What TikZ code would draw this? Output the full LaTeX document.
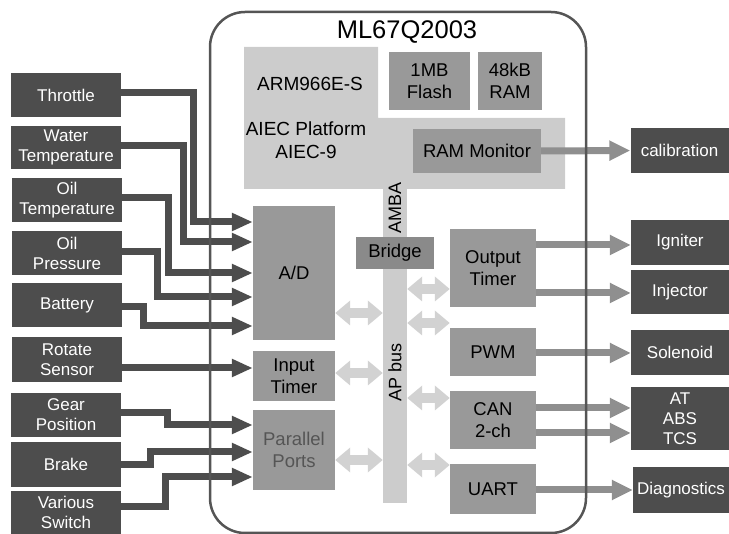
\documentclass[tikz,border=0pt]{standalone}
\usepackage{fontspec}
\setmainfont{Liberation Sans}
\usetikzlibrary{arrows.meta}
\definecolor{extgray}{HTML}{4D4D4D}
\definecolor{modgray}{HTML}{999999}
\definecolor{bridgegray}{HTML}{8A8A8A}
\definecolor{armgray}{HTML}{CCCCCC}
\definecolor{linkgray}{HTML}{D2D2D2}
\definecolor{outgray}{HTML}{8F8F8F}
\definecolor{chipline}{HTML}{555555}
\begin{document}
\begin{tikzpicture}[x=1pt, y=-1pt,
    every node/.style={font=\fontsize{17}{20}\selectfont},
    ext/.style={rectangle, fill=extgray, text=white, inner sep=0pt, align=center, minimum width=110pt, minimum height=44pt},
    sink/.style={ext, minimum width=98pt},
    module/.style={rectangle, fill=modgray, inner sep=0pt, align=center, minimum width=82pt, font=\fontsize{18.5}{22}\selectfont},
    periph/.style={module, minimum width=86pt},
    mem/.style={module, minimum height=58pt},
    busbar/.style={rectangle, fill=armgray, inner sep=0pt, minimum width=24pt},
    inarrow/.style={draw=extgray, line width=7pt, line join=miter, -{Triangle[width=17pt,length=21pt]}},
    outarrow/.style={draw=outgray, line width=7pt, -{Triangle[width=19pt,length=21pt]}},
    busarrow/.style={draw=linkgray, line width=10pt, {Triangle[width=24pt,length=15pt]}-{Triangle[width=24pt,length=15pt]}},
    chip/.style={rectangle, draw=chipline, line width=2.5pt, rounded corners=35pt, inner sep=0pt, minimum width=376pt, minimum height=521pt}
  ]
    \useasboundingbox (0,0) rectangle (729,534);

    % ARM platform
    \fill[armgray] (244,47) -- (378,47) -- (378,118) -- (565,118) -- (565,189) -- (244,189) -- cycle;
    \node[font=\fontsize{19}{23}\selectfont] (core) at (310,84) {ARM966E-S};
    \node[align=center, font=\fontsize{19}{23}\selectfont] (aiec) at (306,140) {AIEC Platform\\AIEC-9};
    \node[mem, minimum width=81pt] (flash) at (429.5,81) {1MB\\Flash};
    \node[mem, minimum width=64pt] (ram) at (510,81) {48kB\\RAM};
    \node[module, minimum width=128pt, minimum height=44pt] (rammon) at (477,151) {RAM Monitor};

    \node[busbar, minimum height=314pt] (bus) at (395,346) {};
    \node[rotate=90, font=\fontsize{18}{20}\selectfont] (amba) at (395,208) {AMBA};
    \node[rotate=90, font=\fontsize{18}{20}\selectfont] (apbus) at (395,372) {AP bus};
    \node[module, fill=bridgegray, minimum width=78pt, minimum height=32pt] (bridge) at (395,253) {Bridge};

    \node[module, minimum height=134pt] (adc) at (294,273) {A/D};
    \node[module, minimum height=50pt] (intimer) at (294,376) {Input\\Timer};
    \node[module, minimum height=80pt, text=chipline] (pports) at (294,450) {Parallel\\Ports};

    \node[periph, minimum height=78pt] (outtimer) at (493,268) {Output\\Timer};
    \node[periph, minimum height=48pt] (pwm) at (493,352) {PWM};
    \node[periph, minimum height=58pt] (can) at (493,420) {CAN\\2-ch};
    \node[periph, minimum height=50pt] (uart) at (493,489) {UART};

    % inputs
    \node[ext] (throttle) at (66,95) {Throttle};
    \node[ext, minimum height=43pt] (water) at (66,147.5) {Water\\Temperature};
    \node[ext] (oiltemp) at (67,200) {Oil\\Temperature};
    \node[ext] (oilpress) at (67,253) {Oil\\Pressure};
    \node[ext] (battery) at (67,305) {Battery};
    \node[ext, minimum height=45pt] (rotate) at (67,359.5) {Rotate\\Sensor};
    \node[ext] (gear) at (66,415) {Gear\\Position};
    \node[ext, minimum height=45pt] (brake) at (66,464.5) {Brake};
    \node[ext, minimum height=43pt] (switch) at (66,512.5) {Various\\Switch};

    % outputs
    \node[sink, minimum height=45pt] (calib) at (679.5,150.5) {calibration};
    \node[sink, minimum height=45pt] (igniter) at (680,242.5) {Igniter};
    \node[sink] (injector) at (680,292) {Injector};
    \node[sink, minimum height=45pt] (solenoid) at (680,352.5) {Solenoid};
    \node[sink, minimum height=63pt] (atabs) at (680,418.5) {AT\\ABS\\TCS};
    \node[sink, minimum height=46pt, minimum width=96pt] (diag) at (681,490) {Diagnostics};

    \draw[inarrow] (throttle.east |- 0,93) -| (193,222) -- (adc.west |- 0,222);
    \draw[inarrow] (water.east |- 0,146) -| (183,242) -- (adc.west |- 0,242);
    \draw[inarrow] (oiltemp.east |- 0,198) -| (168,273) -- (adc.west |- 0,273);
    \draw[inarrow] (oilpress.east |- 0,252) -| (157,297) -- (adc.west |- 0,297);
    \draw[inarrow] (battery.east |- 0,307) -| (143,326) -- (adc.west |- 0,326);
    \draw[inarrow] (rotate.east |- 0,368) -- (intimer.west |- 0,368);
    \draw[inarrow] (gear.east |- 0,413) -| (167,425) -- (pports.west |- 0,425);
    \draw[inarrow] (brake.east |- 0,465) -| (150,452) -- (pports.west |- 0,452);
    \draw[inarrow] (switch.east |- 0,507) -| (165,477) -- (pports.west |- 0,477);

    \foreach \m/\y in {adc/313, intimer/373, pports/460}
      \draw[busarrow] (\m.east |- 0,\y) -- (bus.west |- 0,\y);
    \foreach \m/\y in {outtimer/289, pwm/323, can/398, uart/465}
      \draw[busarrow] (bus.east |- 0,\y) -- (\m.west |- 0,\y);

    \draw[outarrow] (rammon.east) -- (calib.west);
    \draw[outarrow] (outtimer.east |- 0,245) -- (igniter.west |- 0,245);
    \draw[outarrow] (outtimer.east |- 0,293) -- (injector.west |- 0,293);
    \draw[outarrow] (pwm.east |- 0,353) -- (solenoid.west |- 0,353);
    \draw[outarrow] (can.east |- 0,408) -- (atabs.west |- 0,408);
    \draw[outarrow] (can.east |- 0,433) -- (atabs.west |- 0,433);
    \draw[outarrow] (uart.east |- 0,490) -- (diag.west |- 0,490);

    \node[chip] (chipbox) at (398,272.5) {};
    \node[font=\fontsize{25.5}{28}\selectfont] (title) at (407,32) {ML67Q2003};
  \end{tikzpicture}
\end{document}
